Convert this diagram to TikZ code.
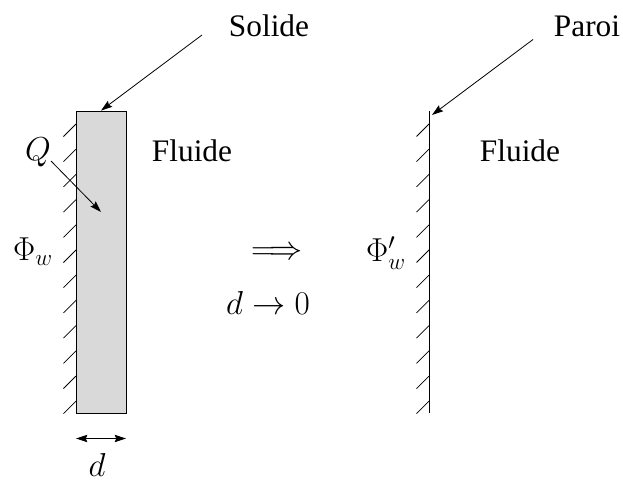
\documentclass[tikz,border=0pt]{standalone}
\usepackage{amsmath,amssymb,bm}
\usepackage[no-math]{fontspec}
\setmainfont{Liberation Serif}
\usetikzlibrary{arrows.meta,positioning}

\begin{document}
\begin{tikzpicture}[x=0.75pt, y=-0.75pt, line width=0.6pt,
    every node/.style={font=\fontsize{23.5}{28}\selectfont, inner sep=0pt},
    solid/.style={draw, fill=black!15, minimum width=37.5pt, minimum height=226.5pt},
    hatch/.style={line width=0.55pt},
    tip/.style={-{Stealth[length=8.5pt,width=5.5pt,inset=1.2pt]}},
    tips/.style={{Stealth[length=8.5pt,width=5.5pt,inset=1.2pt]}-{Stealth[length=8.5pt,width=5.5pt,inset=1.2pt]}}]
\useasboundingbox (0,0) rectangle (623,479);
\node[solid] (block) at (101,262) {};
\coordinate (walltop) at (429,111);
\coordinate (wallbot) at (429,413);
\draw (walltop) -- (wallbot);
% hatching on both walls
\foreach \i in {0,...,11} {
  \coordinate (hl\i) at (76,124+25.2*\i);
  \coordinate (hr\i) at (429,124+25.2*\i);
  \draw[hatch] (hl\i) -- ++(-12.5,12.5);
  \draw[hatch] (hr\i) -- ++(-12.5,12.5);
}
\node (solide) at (269,26) {Solide};
\node (paroi)  at (587,26) {Paroi};
\node (fluidea) at (192,151) {Fluide};
\node (fluideb) at (520,151) {Fluide};
\node (q)    at (38,152)  {$Q$};
\node (phi)  at (33,252)  {$\Phi_w$};
\node (phib) at (386,253) {$\Phi'_w$};
\node (impl) at (277,253) {$\Longrightarrow$};
\node (lim)  at (268,303) {$d\rightarrow 0$};
\node (dlbl) at (97,465)  {$d$};
\coordinate (sstart) at (202,35);
\coordinate (pstart) at (533,39.5);
\coordinate (pend)   at (432,115);
\coordinate (qstart) at (51,161);
\coordinate (qend)   at (101,212);
\coordinate (da) at (76,438.5);
\coordinate (db) at (126,438.5);
\draw[tip] (sstart) -- (block.north);
\draw[tip] (pstart) -- (pend);
\draw[tip] (qstart) -- (qend);
\draw[tips] (da) -- (db);
\end{tikzpicture}
\end{document}
